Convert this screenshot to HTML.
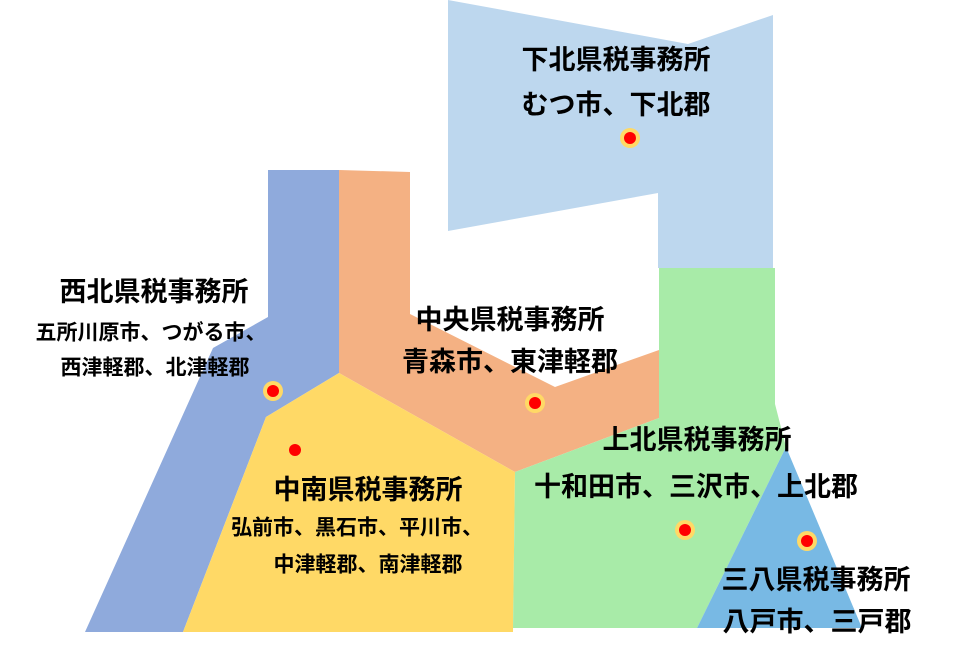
<!DOCTYPE html>
<html><head><meta charset="utf-8"><style>
html,body{margin:0;padding:0;background:#fff;}
svg{display:block;}
text{font-family:"Liberation Sans","Noto Sans CJK JP",sans-serif;font-weight:bold;fill:#000;text-anchor:middle;dominant-baseline:central;}
</style></head><body>
<svg width="960" height="654" viewBox="0 0 960 654" xmlns="http://www.w3.org/2000/svg">
<polygon points="448,0 688,44 773,15 773,268 658,268 658,193 448,231" fill="#BDD7EE"/>
<polygon points="268,170 339,170 339,373 266,417 183,632 85,632 213,348 268,317" fill="#8FAADC"/>
<polygon points="339,170 410,172 410,314 555,387 659,350 659,418 515,472 339,373" fill="#F4B183"/>
<polygon points="339,373 266,417 183,632 513,632 515,472" fill="#FFD966"/>
<polygon points="659,268 775,268 775,404 786,447 697,628 513,628 515,472 659,418" fill="#A8EBA8"/>
<polygon points="786,447 862,628 697,628" fill="#78B9E4"/>
<g fill="#FFD966">
<circle cx="630" cy="138" r="10"/><circle cx="273" cy="391" r="10"/><circle cx="535" cy="403" r="10"/><circle cx="685" cy="530" r="10"/><circle cx="807" cy="541" r="10"/>
</g>
<g fill="#FF0000">
<circle cx="630" cy="138" r="6"/><circle cx="273" cy="391" r="6"/><circle cx="535" cy="403" r="6"/><circle cx="685" cy="530" r="6"/><circle cx="807" cy="541" r="6"/><circle cx="295" cy="450" r="6"/>
</g>
<g font-size="27">
<text x="616" y="60">下北県税事務所</text>
<text x="616" y="105">むつ市、下北郡</text>
<text x="154" y="292">西北県税事務所</text>
<text x="510" y="320">中央県税事務所</text>
<text x="510" y="362">青森市、東津軽郡</text>
<text x="368" y="490">中南県税事務所</text>
<text x="697" y="440">上北県税事務所</text>
<text x="696" y="487">十和田市、三沢市、上北郡</text>
<text x="816" y="580">三八県税事務所</text>
<text x="817" y="622">八戸市、三戸郡</text>
</g>
<g font-size="21">
<text x="151" y="333">五所川原市、つがる市、</text>
<text x="155" y="368">西津軽郡、北津軽郡</text>
<text x="357" y="528">弘前市、黒石市、平川市、</text>
<text x="368" y="565">中津軽郡、南津軽郡</text>
</g>
</svg>
</body></html>
